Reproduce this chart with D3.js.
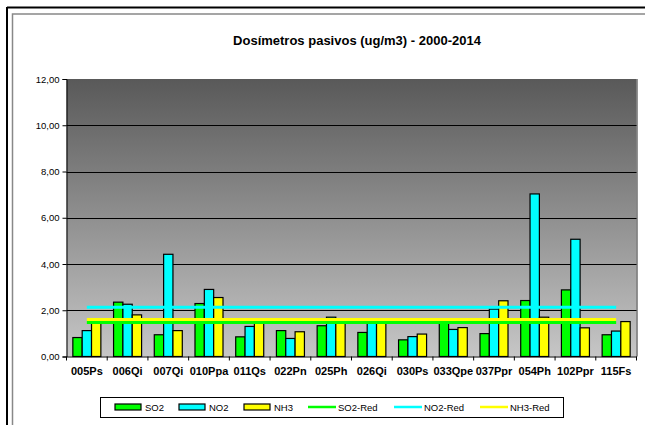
<!DOCTYPE html>
<html>
<head>
<meta charset="utf-8">
<script src="https://cdn.jsdelivr.net/npm/d3@7"></script>
<style>
  body { margin: 0; background: #fff; }
  text { font-family: "Liberation Sans", Arial, sans-serif; }
</style>
</head>
<body>
<div class="chart"></div>
<script>
// data
var stations = ["005Ps","006Qi","007Qi","010Ppa","011Qs","022Pn","025Ph","026Qi","030Ps","033Qpe","037Ppr","054Ph","102Ppr","115Fs"];
var so2 = [0.82,2.35,0.94,2.29,0.85,1.12,1.33,1.04,0.72,1.51,0.99,2.42,2.88,0.94];
var no2 = [1.12,2.26,4.42,2.90,1.30,0.78,1.70,1.53,0.86,1.17,2.05,7.03,5.07,1.10];
var nh3 = [1.51,1.80,1.12,2.55,1.54,1.07,1.55,1.51,0.97,1.25,2.41,1.70,1.24,1.51];
var so2Red = 1.47, no2Red = 2.13, nh3Red = 1.60;
var yTicks = [0,2,4,6,8,10,12];

var series = [
  {name: "SO2", values: so2, color: "#00ff00"},
  {name: "NO2", values: no2, color: "#00ffff"},
  {name: "NH3", values: nh3, color: "#ffff00"}
];
var refLines = [
  {name: "SO2-Red", value: so2Red, color: "#00ff00"},
  {name: "NO2-Red", value: no2Red, color: "#00ffff"},
  {name: "NH3-Red", value: nh3Red, color: "#ffff00"}
];

var width = 645, height = 425;
var plot = {left: 66.5, right: 636.5, top: 79, bottom: 356.5};

var svg = d3.select(".chart").append("svg")
  .attr("width", width).attr("height", height);

// outer frames
svg.append("line").attr("x1", 7).attr("x2", 645).attr("y1", 7.5).attr("y2", 7.5)
  .attr("stroke", "#000").attr("stroke-width", 2);
svg.append("line").attr("x1", 7).attr("x2", 7).attr("y1", 7).attr("y2", 425)
  .attr("stroke", "#000").attr("stroke-width", 2);
svg.append("rect").attr("x", 12.5).attr("y", 14).attr("width", 640).attr("height", 420)
  .attr("fill", "none").attr("stroke", "#888").attr("stroke-width", 1.5);

var defs = svg.append("defs");
var grad = defs.append("linearGradient").attr("id", "bg")
  .attr("x1", 0).attr("y1", 0).attr("x2", 0).attr("y2", 1);
grad.append("stop").attr("offset", "0%").attr("stop-color", "#595959");
grad.append("stop").attr("offset", "100%").attr("stop-color", "#c6c6c6");

var x = d3.scaleBand().domain(stations).range([plot.left, plot.right]).paddingInner(0).paddingOuter(0);
var x1 = d3.scaleBand().domain(series.map(s => s.name)).range([0, x.bandwidth()]).paddingOuter(0.68).paddingInner(0);
var y = d3.scaleLinear().domain([0, 12]).range([plot.bottom, plot.top]);

svg.append("rect")
  .attr("x", plot.left).attr("y", plot.top)
  .attr("width", plot.right - plot.left).attr("height", plot.bottom - plot.top)
  .attr("fill", "url(#bg)");
svg.append("line").attr("x1", plot.right + 0.5).attr("x2", plot.right + 0.5)
  .attr("y1", plot.top).attr("y2", plot.bottom).attr("stroke", "#6e6e6e").attr("stroke-width", 1.5);

// gridlines
svg.append("g").selectAll("line")
  .data(yTicks.filter(d => d > 0 && d < 12))
  .enter().append("line")
  .attr("x1", plot.left).attr("x2", plot.right)
  .attr("y1", d => Math.round(y(d)) + 0.5).attr("y2", d => Math.round(y(d)) + 0.5)
  .attr("stroke", "#000").attr("stroke-width", 1);

// bars
series.forEach(function (s) {
  svg.append("g").selectAll("rect")
    .data(s.values)
    .enter().append("rect")
    .attr("x", (d, i) => x(stations[i]) + x1(s.name))
    .attr("y", d => y(d))
    .attr("width", x1.bandwidth())
    .attr("height", d => y(0) - y(d))
    .attr("fill", s.color)
    .attr("stroke", "#000")
    .attr("stroke-width", 1.2);
});

// reference lines, from first to last category centre
var line = d3.line().x(d => d[0]).y(d => d[1]);
refLines.forEach(function (r) {
  var pts = stations.map(st => [x(st) + x.bandwidth() / 2, y(r.value)]);
  svg.append("path").attr("d", line(pts))
    .attr("fill", "none").attr("stroke", r.color).attr("stroke-width", 3);
});

// y axis
var yAxis = svg.append("g").attr("transform", "translate(" + plot.left + ",0)")
  .call(d3.axisLeft(y).tickValues(yTicks).tickSize(4).tickPadding(3)
    .tickFormat(d => d3.format(".2f")(d).replace(".", ",")));
yAxis.select(".domain").attr("stroke", "#000");
yAxis.selectAll("text").attr("font-size", "9.5px").attr("fill", "#000");

// x axis
var xAxis = svg.append("g").attr("transform", "translate(0," + plot.bottom + ")")
  .call(d3.axisBottom(x).tickSize(0).tickPadding(11));
xAxis.select(".domain").attr("stroke", "#000");
xAxis.selectAll("text").attr("font-size", "11px").attr("font-weight", "bold").attr("fill", "#000");
svg.append("g").selectAll("line")
  .data(stations.concat(["end"]))
  .enter().append("line")
  .attr("x1", (d, i) => plot.left + i * x.bandwidth())
  .attr("x2", (d, i) => plot.left + i * x.bandwidth())
  .attr("y1", plot.bottom).attr("y2", plot.bottom + 4)
  .attr("stroke", "#000");

// title
svg.append("text").attr("x", 357).attr("y", 45)
  .attr("text-anchor", "middle").attr("font-size", "13px").attr("font-weight", "bold")
  .text("Dosímetros pasivos (ug/m3) - 2000-2014");

// legend
var legend = svg.append("g");
legend.append("rect").attr("x", 100.5).attr("y", 397.5).attr("width", 463).attr("height", 20)
  .attr("fill", "#fff").attr("stroke", "#000");
var barItems = [
  {s: series[0], x: 115},
  {s: series[1], x: 179},
  {s: series[2], x: 244}
];
barItems.forEach(function (b) {
  legend.append("rect").attr("x", b.x).attr("y", 404).attr("width", 26).attr("height", 6)
    .attr("fill", b.s.color).attr("stroke", "#000").attr("stroke-width", 1.2);
  legend.append("text").attr("x", b.x + 30).attr("y", 411).attr("font-size", "9.5px").text(b.s.name);
});
var lineItems = [
  {r: refLines[0], x: 308},
  {r: refLines[1], x: 394},
  {r: refLines[2], x: 480}
];
lineItems.forEach(function (l) {
  legend.append("line").attr("x1", l.x).attr("x2", l.x + 28).attr("y1", 407).attr("y2", 407)
    .attr("stroke", l.r.color).attr("stroke-width", 2.5);
  legend.append("text").attr("x", l.x + 30).attr("y", 411).attr("font-size", "9.5px").text(l.r.name);
});
</script>
</body>
</html>
